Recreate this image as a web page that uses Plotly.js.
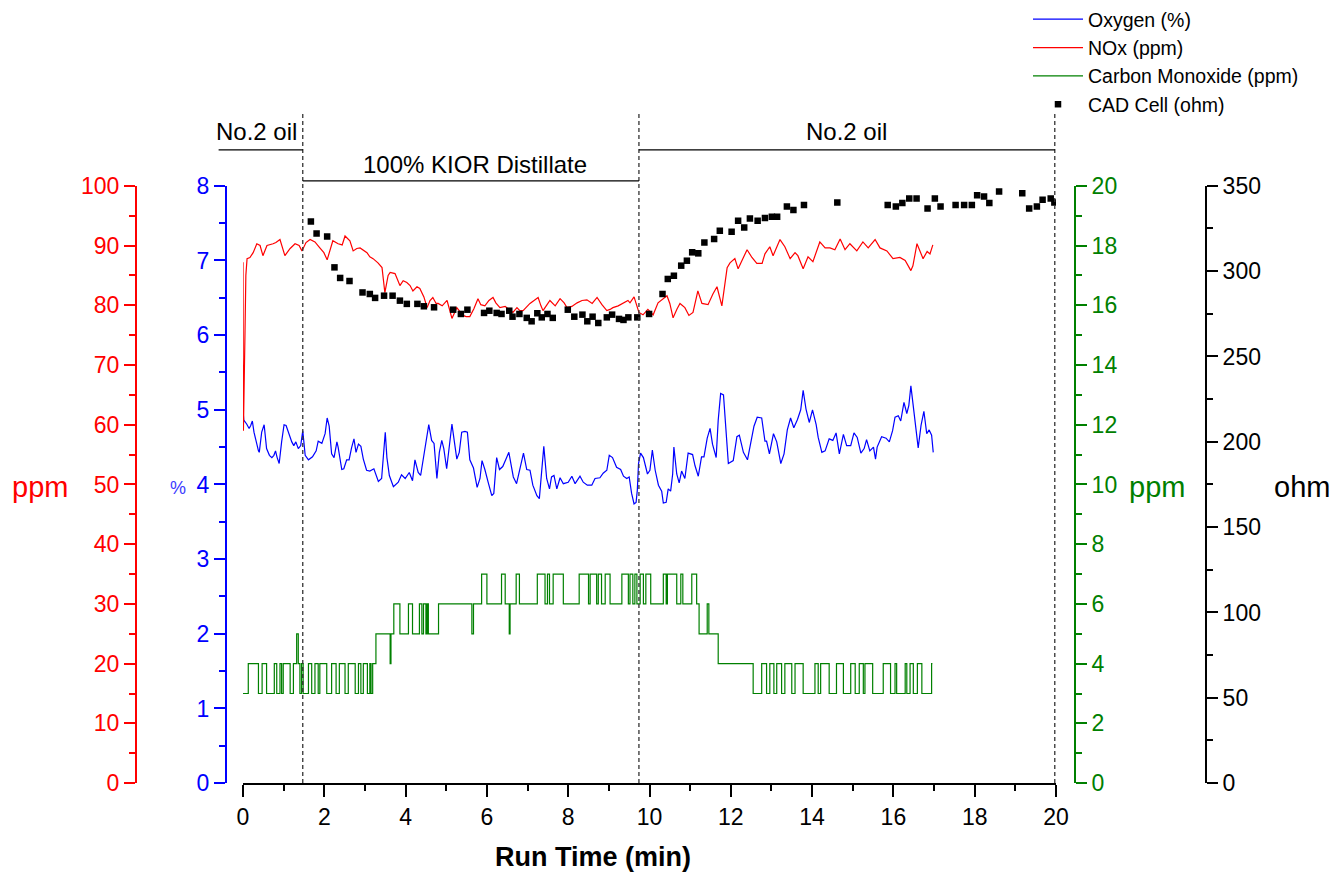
<!DOCTYPE html>
<html><head><meta charset="utf-8">
<script src="https://cdn.plot.ly/plotly-3.0.1.min.js"></script>
<style>html,body{margin:0;padding:0;background:#fff}#chart{width:1336px;height:874px}</style>
</head><body><div id="chart"></div>
<script>
// ---------------- data ----------------
const xTickVals = [0, 2, 4, 6, 8, 10, 12, 14, 16, 18, 20];

const o2Time = [
 0,0.02,0.09,0.15,0.19,0.23,0.27,0.32,0.38,0.40,
 0.46,0.52,0.58,0.65,0.71,0.76,0.80,0.84,0.89,0.95,
 1.01,1.06,1.11,1.20,1.25,1.30,1.36,1.42,1.47,1.53,
 1.61,1.71,1.80,1.85,1.94,2.02,2.07,2.12,2.18,2.24,
 2.31,2.34,2.43,2.48,2.55,2.61,2.67,2.73,2.78,2.84,
 2.90,2.96,3.04,3.12,3.22,3.33,3.41,3.47,3.50,3.54,
 3.60,3.70,3.82,3.90,3.99,4.09,4.17,4.23,4.31,4.37,
 4.44,4.50,4.57,4.64,4.70,4.77,4.83,4.89,4.94,5.01,
 5.08,5.14,5.19,5.26,5.32,5.38,5.46,5.52,5.58,5.67,
 5.76,5.83,5.88,5.95,6.03,6.12,6.17,6.24,6.31,6.39,
 6.47,6.54,6.59,6.65,6.73,6.80,6.90,6.98,7.06,7.13,
 7.23,7.29,7.35,7.40,7.47,7.54,7.59,7.65,7.72,7.80,
 7.88,8.00,8.09,8.17,8.29,8.37,8.47,8.58,8.66,8.78,
 8.86,8.95,9.01,9.09,9.19,9.29,9.36,9.44,9.50,9.56,
 9.62,9.67,9.70,9.73,9.78,9.85,9.95,10.01,10.07,10.14,
 10.22,10.30,10.34,10.41,10.46,10.52,10.57,10.60,10.67,10.73,
 10.79,10.87,10.95,11.06,11.12,11.20,11.28,11.34,11.42,11.49,
 11.55,11.64,11.69,11.75,11.82,11.86,11.94,12.06,12.15,12.21,
 12.31,12.41,12.49,12.57,12.65,12.76,12.84,12.88,12.95,13.05,
 13.13,13.23,13.31,13.39,13.47,13.55,13.64,13.72,13.78,13.85,
 13.93,14.01,14.10,14.15,14.24,14.32,14.42,14.51,14.59,14.67,
 14.77,14.85,14.95,15.03,15.11,15.20,15.28,15.34,15.42,15.51,
 15.56,15.60,15.71,15.82,15.90,15.98,16.04,16.12,16.18,16.26,
 16.33,16.38,16.43,16.49,16.56,16.61,16.68,16.75,16.82,16.88,
 16.94,16.98];
const o2Pct = [
 5.00,4.86,4.81,4.75,4.79,4.85,4.70,4.57,4.45,4.43,
 4.70,4.80,4.48,4.39,4.36,4.39,4.45,4.36,4.28,4.57,
 4.80,4.79,4.70,4.57,4.52,4.57,4.48,4.52,4.72,4.39,
 4.33,4.37,4.45,4.58,4.55,4.68,4.89,4.78,4.41,4.36,
 4.57,4.50,4.20,4.21,4.33,4.33,4.49,4.61,4.43,4.54,
 4.51,4.34,4.19,4.18,4.21,4.04,4.08,4.48,4.70,4.36,
 4.12,3.97,4.03,4.13,4.08,4.16,4.05,4.33,4.16,4.12,
 4.36,4.52,4.80,4.59,4.55,4.08,4.43,4.59,4.48,4.21,
 4.57,4.81,4.61,4.34,4.43,4.70,4.71,4.70,4.33,4.22,
 3.96,4.08,4.32,4.20,4.03,3.85,3.88,4.36,4.20,4.24,
 4.34,4.43,4.28,4.10,4.01,4.19,4.42,4.20,4.19,3.99,
 3.85,3.81,4.19,4.51,4.08,3.94,4.10,4.12,3.94,4.09,
 4.01,4.03,4.11,4.01,4.11,4.03,3.99,3.99,4.08,4.09,
 4.15,4.19,4.39,4.36,4.23,4.20,4.11,4.08,4.10,3.88,
 3.74,3.76,3.92,4.28,4.42,4.36,4.14,4.19,4.46,4.19,
 3.99,3.91,3.75,3.76,3.94,3.91,4.14,4.50,4.14,4.02,
 4.18,4.08,4.42,4.40,4.25,4.11,4.37,4.37,4.62,4.75,
 4.54,4.36,4.86,5.22,5.20,4.86,4.28,4.32,4.64,4.66,
 4.43,4.33,4.58,4.78,4.90,4.89,4.58,4.58,4.41,4.68,
 4.57,4.28,4.41,4.73,4.89,4.76,4.87,5.00,5.26,5.01,
 4.83,5.00,4.80,4.63,4.43,4.45,4.61,4.59,4.69,4.41,
 4.67,4.52,4.52,4.69,4.63,4.42,4.48,4.60,4.45,4.50,
 4.34,4.50,4.64,4.62,4.57,4.72,4.90,4.92,4.85,5.10,
 4.95,5.06,5.32,5.06,4.70,4.49,4.79,4.98,4.68,4.73,
 4.66,4.43];

const noxTime = [
 0,0.01,0.05,0.07,0.1,0.17,0.25,0.34,0.42,0.49,
 0.59,0.66,0.74,0.81,0.91,1.03,1.16,1.28,1.38,1.45,
 1.55,1.65,1.77,1.89,1.99,2.07,2.21,2.34,2.44,2.51,
 2.63,2.71,2.8,2.88,2.98,3.05,3.12,3.2,3.32,3.42,
 3.49,3.57,3.62,3.74,3.86,3.94,4.03,4.11,4.18,4.28,
 4.35,4.45,4.53,4.6,4.67,4.75,4.8,4.9,5.02,5.14,
 5.26,5.34,5.41,5.49,5.58,5.68,5.78,5.85,5.95,6.05,
 6.15,6.22,6.32,6.45,6.57,6.64,6.74,6.81,6.89,6.99,
 7.06,7.16,7.26,7.33,7.38,7.48,7.55,7.68,7.8,7.9,
 7.97,8.09,8.22,8.34,8.46,8.59,8.71,8.83,8.95,9.03,
 9.1,9.23,9.35,9.47,9.52,9.62,9.74,9.84,9.96,10.09,
 10.21,10.33,10.43,10.5,10.58,10.68,10.75,10.87,10.97,11.07,
 11.19,11.29,11.44,11.56,11.66,11.78,11.91,11.98,12.1,12.18,
 12.28,12.4,12.52,12.64,12.77,12.84,12.96,13.04,13.21,13.33,
 13.46,13.58,13.65,13.78,13.9,14.02,14.19,14.32,14.44,14.56,
 14.69,14.81,14.93,15.1,15.25,15.38,15.55,15.67,15.84,15.99,
 16.16,16.29,16.43,16.48,16.58,16.73,16.83,16.9,16.97];
const noxPpm = [
 87.2,59,75.8,85,87.8,88,88.8,90.3,90,88.3,
 90,90.1,90.3,90.5,91,88.3,89.5,90.3,90,89.1,
 90.5,91,90.6,89.6,88.8,87.6,90.8,90.3,90.1,91.6,
 90.8,89.1,89.5,89.6,89.1,88.8,88.1,87.8,87.1,86.3,
 82.1,85,85.5,85.3,83.3,84.1,83.8,83.3,82.4,83.1,
 82.8,81.4,79.6,80.8,81.3,80.3,80.3,79.9,80.8,77.8,
 79.6,78.8,78.3,78.1,78.1,79.4,81.1,80.1,79.9,80.8,
 81.3,80.4,79.6,79.8,79.1,78.8,79.6,79.1,79.1,79.8,
 80.3,80.8,81.3,79.9,79.1,80.1,80.8,79.9,81.1,80.4,
 79.6,79.8,80.4,80.8,80.9,80.3,81.3,80.1,79.1,79.3,
 79.6,79.9,80.4,80.8,80.4,81.4,78.8,78.4,79.3,78.4,
 80.4,81.1,81.6,80.3,77.9,79.4,80.3,79.6,78.3,78.8,
 82.4,80.3,80.1,81.9,83.1,79.9,86.3,87.1,87.8,86.1,
 87.5,89.3,88,87,87,88.6,89.8,88.3,91,89.8,
 87.8,88.8,88.3,86.1,88.1,87.3,90.6,89.6,89.6,89.3,
 91.1,89.3,90.3,89.1,90.6,89.6,91,89.6,89.1,87.8,
 88,87.5,85.8,86.6,90.3,87.8,89,88.6,90.1];

// Carbon monoxide: time of each level change and the level after it
const coTime = [
 0,0.13,0.38,0.47,0.58,0.77,0.83,0.91,0.95,0.99,
 1.16,1.24,1.32,1.36,1.40,1.44,1.48,1.61,1.69,1.77,
 1.85,1.89,2.06,2.18,2.29,2.37,2.51,2.59,2.76,2.84,
 2.90,2.96,3.06,3.12,3.15,3.19,3.27,3.62,3.64,3.71,
 3.86,4.07,4.17,4.34,4.40,4.44,4.50,4.53,4.56,4.81,
 5.63,5.67,5.87,6.00,6.36,6.45,6.55,6.57,6.72,6.80,
 7.24,7.43,7.49,7.54,7.63,7.88,8.27,8.50,8.54,8.70,
 8.74,8.82,8.91,9.03,9.32,9.48,9.52,9.59,9.64,9.69,
 9.77,9.85,9.91,10.03,10.34,10.41,10.44,10.67,10.77,10.82,
 11.04,11.16,11.22,11.42,11.46,11.69,12.55,12.76,12.88,12.96,
 13.06,13.13,13.25,13.33,13.50,13.58,13.78,14.07,14.15,14.21,
 14.42,14.60,14.77,14.95,15.06,15.16,15.26,15.30,15.49,15.75,
 15.93,16.04,16.08,16.29,16.33,16.41,16.49,16.59,16.70,16.94,
 16.96];
const coPpm = [
 3,4,3,4,3,4,3,4,3,4,
 3,4,5,4,3,4,3,4,3,4,
 3,4,3,4,3,4,3,4,3,4,
 3,4,3,4,3,4,5,4,5,6,
 5,6,5,6,5,6,5,6,5,6,
 5,6,7,6,7,6,5,6,7,6,
 7,6,7,6,7,6,7,6,7,6,
 7,6,7,6,7,6,7,6,7,6,
 7,6,7,6,7,6,7,6,7,6,
 7,6,5,6,5,4,3,4,3,4,
 3,4,3,4,3,4,3,4,3,4,
 3,4,3,4,3,4,3,4,3,4,
 3,4,3,4,3,4,3,4,3,4,
 4];

const cadTime = [
 1.67,1.81,2.07,2.25,2.39,2.62,2.94,3.12,3.25,3.47,
 3.68,3.86,4.03,4.29,4.45,4.70,5.17,5.36,5.52,5.93,
 6.06,6.24,6.36,6.55,6.63,6.80,6.98,7.10,7.24,7.35,
 7.49,7.62,7.99,8.15,8.35,8.47,8.60,8.74,8.95,9.08,
 9.25,9.36,9.48,9.70,9.99,10.32,10.45,10.60,10.78,10.92,
 11.05,11.20,11.35,11.59,11.73,12.02,12.18,12.33,12.47,12.66,
 12.84,13.01,13.14,13.38,13.54,13.80,14.62,15.86,16.06,16.22,
 16.39,16.57,16.84,17.02,17.16,17.53,17.74,17.93,18.06,18.23,
 18.36,18.60,19.17,19.34,19.53,19.67,19.87,19.96];
const cadOhm = [
 329.1,322.1,320.3,302.2,296.0,294.2,287.5,286.6,284.3,285.6,
 285.6,282.7,280.8,280.8,279.4,278.8,277.4,274.9,277.4,275.5,
 276.8,275.5,274.9,276.8,273.3,274.9,272.6,270.6,275.3,272.9,
 274.9,272.6,277.4,273.3,274.5,270.6,273.3,269.6,272.9,274.5,
 272.0,271.4,272.9,272.9,274.9,286.6,295.4,297.3,303.2,306.1,
 311.0,310.4,316.8,318.8,323.7,323.1,329.5,325.6,330.9,329.5,
 331.1,331.8,331.8,337.9,335.8,338.7,340.2,338.7,337.8,339.9,
 342.6,342.6,336.7,342.6,337.9,338.7,338.7,338.7,344.5,343.7,
 339.9,346.7,345.7,336.7,337.9,341.8,342.6,340.2];

// fuel phases (start, end in minutes) shown above the plot
const phaseNames = ['No.2 oil', '100% KIOR Distillate', 'No.2 oil'];
const phaseStart = [-0.6, 1.47, 9.74];
const phaseEnd = [1.47, 9.74, 19.97];
const phaseRow = [0, 1, 0];

// ---------------- layout helpers ----------------
const W = 1336, H = 874;
const FONT = '"Liberation Sans", Arial, Helvetica, sans-serif';
const fx = p => p / W;          // pixel -> paper x
const fy = p => 1 - p / H;      // pixel -> paper y
const xDom = [fx(243), fx(1056)];
const yDom = [fy(783), fy(185)];
const xRange = [0, 20];
const tPaper = t => xDom[0] + (t - xRange[0]) / (xRange[1] - xRange[0]) * (xDom[1] - xDom[0]);

function yAxis(color, range, dtick, minor, pos, side, extra) {
  return Object.assign({
    range: range, domain: yDom, anchor: 'free', position: pos, side: side,
    dtick: dtick, tick0: 0, ticks: 'outside', ticklen: 11, tickwidth: 2, tickcolor: color,
    showline: true, linecolor: color, linewidth: 2,
    showgrid: false, zeroline: false,
    tickfont: {family: FONT, size: 23, color: color},
    minor: {dtick: minor, tick0: 0, ticks: 'outside', ticklen: 6, tickwidth: 2, tickcolor: color, showgrid: false},
    fixedrange: true
  }, extra || {});
}

const traces = [
  {x: o2Time, y: o2Pct, type: 'scatter', mode: 'lines', name: 'Oxygen (%)',
   line: {color: '#0000ff', width: 1.2}, xaxis: 'x', yaxis: 'y'},
  {x: noxTime, y: noxPpm, type: 'scatter', mode: 'lines', name: 'NOx (ppm)',
   line: {color: '#ff0000', width: 1.2}, xaxis: 'x', yaxis: 'y2'},
  {x: coTime, y: coPpm, type: 'scatter', mode: 'lines', name: 'Carbon Monoxide (ppm)',
   line: {color: '#008000', width: 1.2, shape: 'hv'}, xaxis: 'x', yaxis: 'y3'},
  {x: cadTime, y: cadOhm, type: 'scatter', mode: 'markers', name: 'CAD Cell (ohm)',
   marker: {color: '#000', symbol: 'square', size: 6.5}, xaxis: 'x', yaxis: 'y4'}
];

const shapes = [];
const annotations = [];
// dashed phase boundaries
phaseEnd.forEach(t => {
  shapes.push({type: 'line', xref: 'x', yref: 'paper', x0: t, x1: t, y0: fy(783), y1: fy(112),
    line: {color: '#333', width: 1.3, dash: '4px,3px'}});
});
// phase bars and labels
phaseNames.forEach((name, i) => {
  const lineY = phaseRow[i] === 0 ? 149 : 180;
  const textY = phaseRow[i] === 0 ? 131 : 164;
  shapes.push({type: 'line', xref: 'paper', yref: 'paper',
    x0: tPaper(phaseStart[i]), x1: tPaper(phaseEnd[i]), y0: fy(lineY), y1: fy(lineY),
    line: {color: '#000', width: 1.3}});
  annotations.push({xref: 'paper', yref: 'paper', x: tPaper((phaseStart[i] + phaseEnd[i]) / 2) - (i === 0 ? fx(4) : 0) + (i === 1 ? fx(4) : 0), y: fy(textY),
    text: name, showarrow: false, xanchor: 'center', yanchor: 'middle',
    font: {family: FONT, size: 24, color: '#000'}});
});
// axis titles
const titles = [
  {text: 'ppm', x: 40, y: 487, size: 29, color: '#ff0000'},
  {text: '%', x: 178, y: 488, size: 18, color: '#3b3bff'},
  {text: 'ppm', x: 1157, y: 487, size: 29, color: '#008000'},
  {text: 'ohm', x: 1302, y: 487, size: 29, color: '#000000'},
  {text: '<b>Run Time (min)</b>', x: 593, y: 857, size: 27, color: '#000000'}
];
titles.forEach(t => annotations.push({xref: 'paper', yref: 'paper', x: fx(t.x), y: fy(t.y),
  text: t.text, showarrow: false, xanchor: 'center', yanchor: 'middle',
  font: {family: FONT, size: t.size, color: t.color}}));

const layout = {
  width: W, height: H,
  margin: {l: 0, r: 0, t: 0, b: 0, pad: 0},
  paper_bgcolor: '#fff', plot_bgcolor: 'rgba(0,0,0,0)',
  font: {family: FONT, color: '#000'},
  showlegend: true,
  legend: {x: fx(1028), y: fy(-1), xanchor: 'left', yanchor: 'top',
    bgcolor: 'rgba(0,0,0,0)', borderwidth: 0,
    font: {family: FONT, size: 19.5, color: '#000'},
    itemwidth: 50},
  xaxis: {domain: xDom, range: xRange, anchor: 'y', tickvals: xTickVals,
    ticks: 'outside', ticklen: 12, tickwidth: 2, tickcolor: '#000',
    showline: true, linecolor: '#000', linewidth: 2, showgrid: false, zeroline: false,
    tickfont: {family: FONT, size: 23, color: '#000'},
    minor: {dtick: 1, tick0: 0, ticks: 'outside', ticklen: 6, tickwidth: 2, tickcolor: '#000', showgrid: false},
    fixedrange: true},
  yaxis: yAxis('#0000ff', [0, 8], 1, 0.5, fx(226), 'left'),
  yaxis2: yAxis('#ff0000', [0, 100], 10, 5, fx(136), 'left', {overlaying: 'y'}),
  yaxis3: yAxis('#008000', [0, 20], 2, 1, fx(1075), 'right', {overlaying: 'y'}),
  yaxis4: yAxis('#000000', [0, 350], 50, 25, fx(1206), 'right', {overlaying: 'y'}),
  shapes: shapes,
  annotations: annotations
};

Plotly.newPlot('chart', traces, layout, {displayModeBar: false, staticPlot: true});
</script></body></html>
